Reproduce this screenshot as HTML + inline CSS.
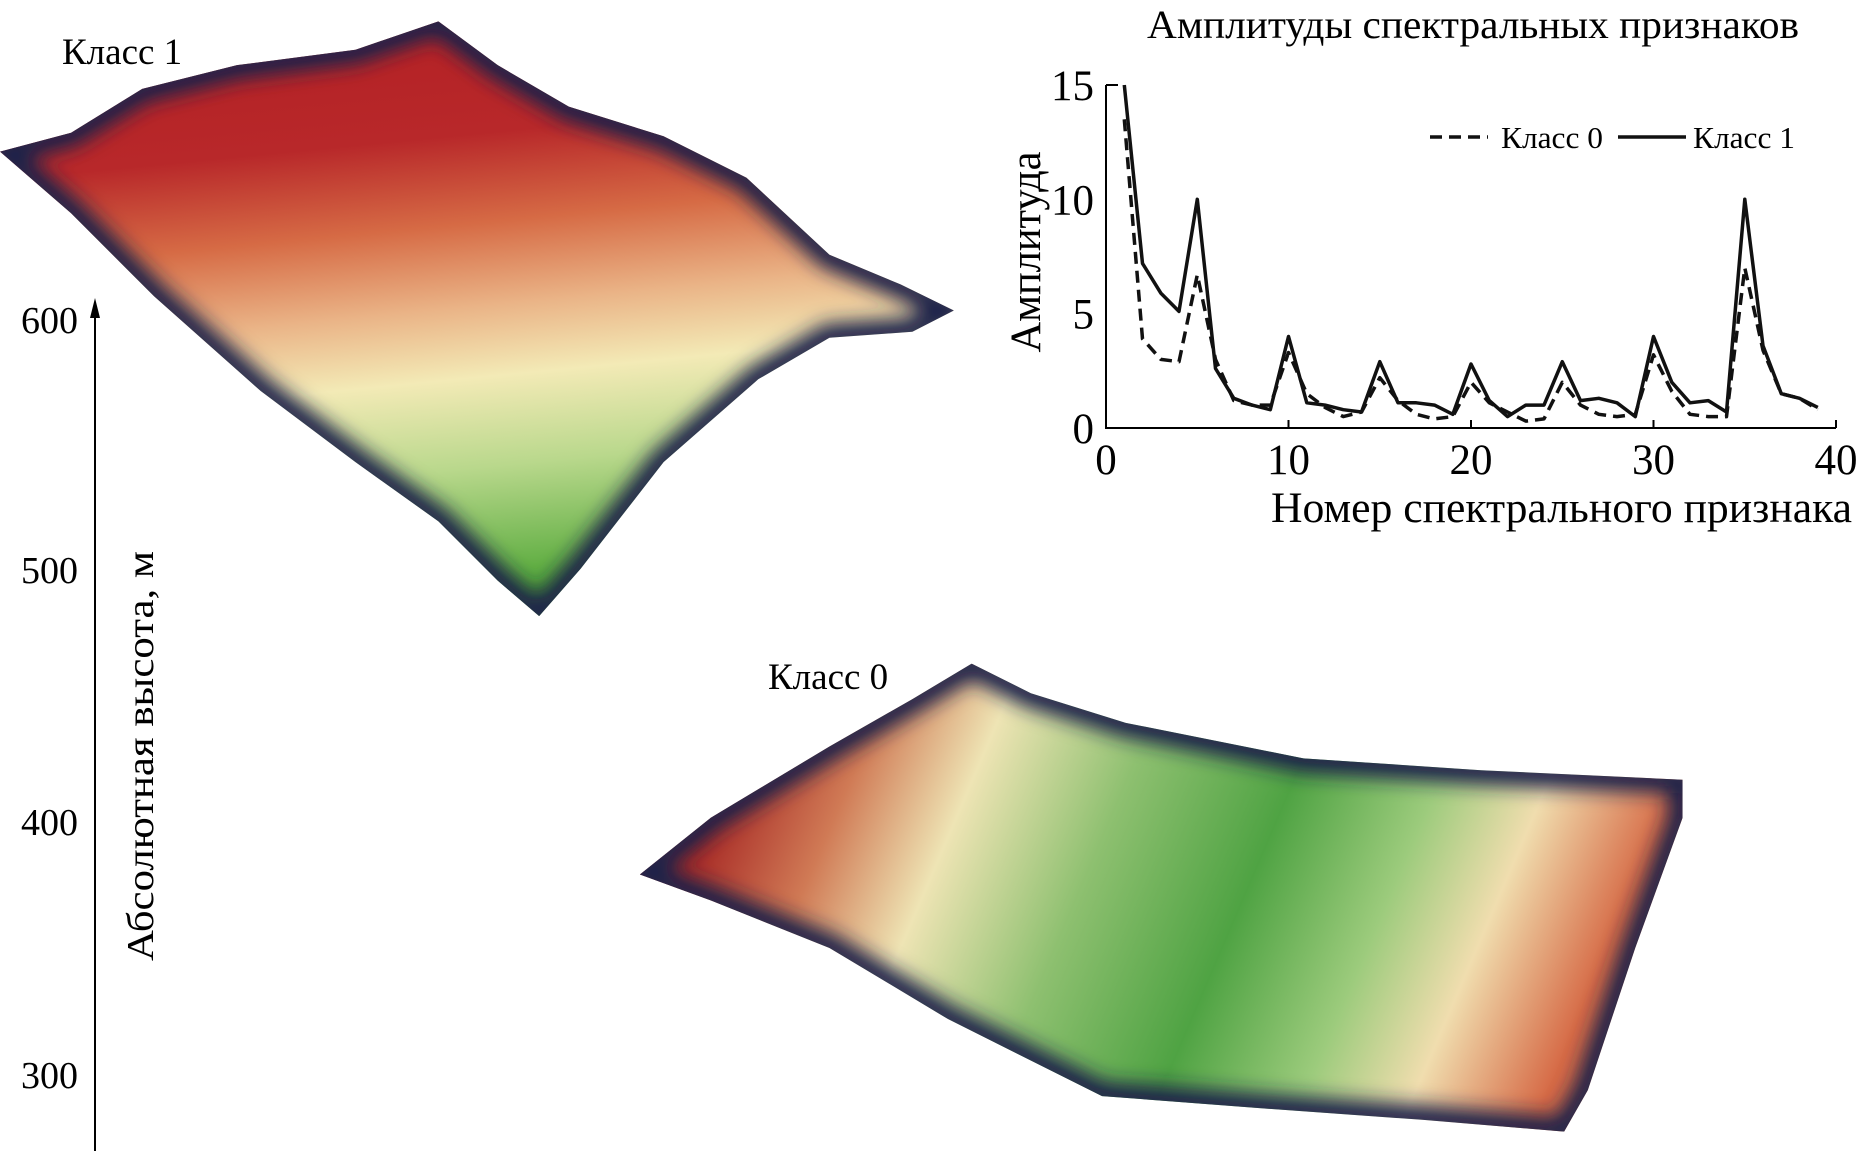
<!DOCTYPE html>
<html><head><meta charset="utf-8"><style>
html,body{margin:0;padding:0;background:#fff;}
svg{display:block;font-family:"Liberation Serif","DejaVu Serif",serif;}
</style></head><body>
<svg id="root" width="1858" height="1151" viewBox="0 0 1858 1151">
<defs>
  <linearGradient id="g1" x1="0" y1="0" x2="0.15" y2="1">
    <stop offset="0" stop-color="#b21d22"/>
    <stop offset="0.28" stop-color="#b8282a"/>
    <stop offset="0.42" stop-color="#d66b45"/>
    <stop offset="0.55" stop-color="#eab487"/>
    <stop offset="0.66" stop-color="#f3eab6"/>
    <stop offset="0.8" stop-color="#b9d88c"/>
    <stop offset="1" stop-color="#4ea634"/>
  </linearGradient>
  <linearGradient id="g0" x1="0" y1="0" x2="1" y2="0.2">
    <stop offset="0" stop-color="#8e1a1e"/>
    <stop offset="0.14" stop-color="#a82a26"/>
    <stop offset="0.25" stop-color="#d07a55"/>
    <stop offset="0.36" stop-color="#eee4b4"/>
    <stop offset="0.5" stop-color="#8ec070"/>
    <stop offset="0.65" stop-color="#4fa343"/>
    <stop offset="0.78" stop-color="#9ccb7c"/>
    <stop offset="0.88" stop-color="#f0ddae"/>
    <stop offset="1" stop-color="#d66a46"/>
  </linearGradient>
  <filter id="blur" x="-20%" y="-20%" width="140%" height="140%"><feGaussianBlur stdDeviation="8"/></filter>
  <clipPath id="c1"><polygon points="0,128 60,112 120,75 200,55 300,42 370,18 420,55 480,90 560,115 630,150 700,215 760,240 805,262 770,280 700,285 640,320 560,390 490,480 455,520 420,490 370,440 300,390 220,330 130,250 60,180"/></clipPath>
  <clipPath id="c0"><polygon points="540,738 600,690 700,630 770,590 820,560 870,585 950,610 1100,640 1250,650 1420,658 1420,690 1380,800 1340,920 1320,955 1200,945 1060,935 930,925 800,860 700,800 600,760"/></clipPath>
</defs>

<g transform="scale(1.18495)">
  <g>
    <g clip-path="url(#c1)">
      <rect x="0" y="0" width="820" height="530" fill="url(#g1)"/>
      <polygon points="0,128 60,112 120,75 200,55 300,42 370,18 420,55 480,90 560,115 630,150 700,215 760,240 805,262 770,280 700,285 640,320 560,390 490,480 455,520 420,490 370,440 300,390 220,330 130,250 60,180" fill="none" stroke="#1c2448" stroke-width="24" filter="url(#blur)"/>
    </g>
  </g>
  <g>
    <g clip-path="url(#c0)">
      <rect x="530" y="550" width="900" height="420" fill="url(#g0)"/>
      <polygon points="540,738 600,690 700,630 770,590 820,560 870,585 950,610 1100,640 1250,650 1420,658 1420,690 1380,800 1340,920 1320,955 1200,945 1060,935 930,925 800,860 700,800 600,760" fill="none" stroke="#1c2448" stroke-width="24" filter="url(#blur)"/>
    </g>
  </g>
</g>

<text x="62" y="64" font-size="37">Класс 1</text>
<text x="768" y="689" font-size="37">Класс 0</text>

<g>
  <line x1="95" y1="310" x2="95" y2="1151" stroke="#000" stroke-width="2"/>
  <polygon points="95,298 90,318 100,318" fill="#000"/>
  <text x="78" y="333" font-size="38" text-anchor="end">600</text>
  <text x="78" y="583" font-size="38" text-anchor="end">500</text>
  <text x="78" y="835" font-size="38" text-anchor="end">400</text>
  <text x="78" y="1088" font-size="38" text-anchor="end">300</text>
  <text transform="translate(153,756) rotate(-90)" font-size="38" text-anchor="middle" textLength="410" lengthAdjust="spacingAndGlyphs">Абсолютная высота, м</text>
</g>

<g id="chart"></g>
</svg>
<script>
const xTicks = [0, 10, 20, 30, 40];
const yTicks = [0, 5, 10, 15];
const features = [1,2,3,4,5,6,7,8,9,10,11,12,13,14,15,16,17,18,19,20,21,22,23,24,25,26,27,28,29,30,31,32,33,34,35,36,37,38,39];
const class1 = [15,7.2,5.9,5.1,10,2.6,1.3,1.0,0.8,4,1.1,1.0,0.8,0.7,2.9,1.1,1.1,1.0,0.6,2.8,1.2,0.5,1.0,1.0,2.9,1.2,1.3,1.1,0.5,4.0,2.0,1.1,1.2,0.7,10,3.6,1.5,1.3,0.9];
const class0 = [13.5,3.9,3.0,2.9,6.7,3.0,1.2,1.0,1.0,3.3,1.5,0.9,0.5,0.7,2.2,1.2,0.6,0.4,0.5,2.0,1.1,0.7,0.3,0.4,2.0,1.0,0.6,0.5,0.6,3.2,1.6,0.6,0.5,0.5,7.0,3.4,1.5,1.3,0.8];

const NS = 'http://www.w3.org/2000/svg';
const g = document.getElementById('chart');
const X0 = 1106, X1 = 1836, Y0 = 428, Y1 = 85;
const sx = v => X0 + (v - 0) / 40 * (X1 - X0);
const sy = v => Y0 - v / 15 * (Y0 - Y1);
function mk(tag, attrs, parent) {
  const e = document.createElementNS(NS, tag);
  for (const k in attrs) e.setAttribute(k, attrs[k]);
  (parent || g).appendChild(e);
  return e;
}
const ax = mk('path', {d: `M${X0},${Y1} L${X0},${Y0} L${X1},${Y0}`, fill: 'none', stroke: '#000', 'stroke-width': 2});


mk('line', {x1: X0, y1: Y1, x2: X0 + 12, y2: Y1, stroke: '#000', 'stroke-width': 2});
xTicks.forEach(t => {
  mk('line', {x1: sx(t), y1: Y0, x2: sx(t), y2: Y0 - 8, stroke: '#000', 'stroke-width': 2});
  const tx = mk('text', {x: sx(t), y: Y0 + 46, 'font-size': 43, 'text-anchor': 'middle'});
  tx.textContent = t;
  
  
});
yTicks.forEach(t => {
  const ty = mk('text', {x: X0 - 12, y: sy(t) + 15, 'font-size': 43, 'text-anchor': 'end'});
  ty.textContent = t;
  
  
});
function line(vals, dash, name) {
  const d = vals.map((v, i) => (i ? 'L' : 'M') + sx(features[i]).toFixed(1) + ',' + sy(v).toFixed(1)).join(' ');
  const p = mk('path', {d, fill: 'none', stroke: '#111', 'stroke-width': 3.5, 'stroke-dasharray': dash, 'stroke-linejoin': 'round'});
  
  
}
line(class0, '12,7', 'class-0-line');
line(class1, 'none', 'class-1-line');

const title = mk('text', {x: 1473, y: 38, 'font-size': 40, 'text-anchor': 'middle', textLength: 652, lengthAdjust: 'spacingAndGlyphs'});
title.textContent = 'Амплитуды спектральных признаков';


const xt = mk('text', {x: 1852, y: 522, 'font-size': 43, 'text-anchor': 'end', textLength: 581, lengthAdjust: 'spacingAndGlyphs'});
xt.textContent = 'Номер спектрального признака';


const yt = mk('text', {transform: 'translate(1040,252) rotate(-90)', 'font-size': 43, 'text-anchor': 'middle', textLength: 201, lengthAdjust: 'spacingAndGlyphs'});
yt.textContent = 'Амплитуда';



const l0 = mk('line', {x1: 1430, y1: 137, x2: 1488, y2: 137, stroke: '#111', 'stroke-width': 3.5, 'stroke-dasharray': '12,7'});


const lt0 = mk('text', {x: 1501, y: 148, 'font-size': 31, textLength: 102, lengthAdjust: 'spacingAndGlyphs'});
lt0.textContent = 'Класс 0';


const l1 = mk('line', {x1: 1618, y1: 137, x2: 1686, y2: 137, stroke: '#111', 'stroke-width': 3.5});


const lt1 = mk('text', {x: 1693, y: 148, 'font-size': 31, textLength: 102, lengthAdjust: 'spacingAndGlyphs'});
lt1.textContent = 'Класс 1';


</script>
</body></html>
